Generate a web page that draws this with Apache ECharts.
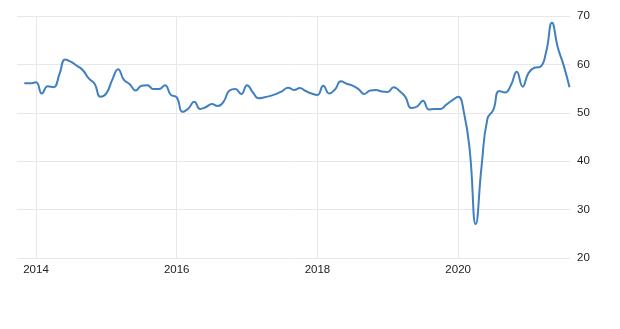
<!DOCTYPE html>
<html>
<head>
<meta charset="utf-8">
<script src="https://cdn.jsdelivr.net/npm/echarts@6/dist/echarts.min.js"></script>
<style>
html,body{margin:0;padding:0;background:#fff;}
#chart{width:620px;height:329px;}
</style>
</head>
<body>
<div id="chart"></div>
<script>
// Monthly observations, Nov 2013 .. Aug 2021
var startYear = 2013, startMonth = 11;
var values = [
  56.1, 56.1,
  56.3, 54.0, 55.5, 55.3, 58.0, 61.0, 60.5, 59.7, 58.8, 57.1, 56.0, 53.3,
  54.0, 56.8, 59.0, 56.8, 55.9, 54.6, 55.6, 55.7, 54.9, 54.9, 55.7, 53.7,
  53.2, 50.2, 50.9, 52.3, 50.8, 51.2, 51.8, 51.4, 52.3, 54.6, 54.9, 53.9,
  55.7, 54.2, 53.0, 53.2, 53.5, 53.9, 54.5, 55.2, 54.7, 55.1, 54.5, 54.0,
  53.7, 55.6, 54.0, 54.8, 56.5, 56.0, 55.6, 54.9, 53.9, 54.6, 54.7, 54.4,
  54.3, 55.3, 54.5, 53.3, 51.0, 51.3, 52.5, 50.7, 50.8, 50.8, 51.7, 52.6,
  53.3, 50.0, 42.0, 27.0, 39.0, 48.8, 50.6, 54.5, 54.2, 55.7, 58.5, 55.4,
  58.2, 59.3, 59.5, 62.5, 68.6, 63.5, 59.8, 55.3
];
var yearTicks = [2014, 2016, 2018, 2020];
var yTicks = [20, 30, 40, 50, 60, 70];

// x = fractional year (year + (month-1)/12)
var xs = [];
for (var i = 0; i < values.length; i++) {
  var mm = startMonth - 1 + i;
  var y = startYear + Math.floor(mm / 12);
  var m = mm % 12;
  xs.push(y + m / 12);
}
var data = xs.map(function (x, i) { return [x, values[i]]; });

var font = '"Liberation Sans Narrow", "Liberation Sans", Arial, sans-serif';
var chart = echarts.init(document.getElementById('chart'), null, {renderer: 'canvas'});
chart.setOption({
  animation: false,
  backgroundColor: '#ffffff',
  grid: {left: 17, right: 50, top: 16, bottom: 71},
  xAxis: {
    type: 'value',
    min: 2013.73,
    max: 2021.59,
    axisLine: {show: false},
    axisTick: {show: false, customValues: yearTicks},
    axisLabel: {
      customValues: yearTicks,
      formatter: function (v) { return String(Math.round(v)); },
      color: '#222', fontSize: 11.5, fontFamily: font, margin: 6
    },
    splitLine: {show: true, lineStyle: {color: '#e8e8e8', width: 1}}
  },
  yAxis: {
    type: 'value',
    position: 'right',
    min: yTicks[0],
    max: yTicks[yTicks.length - 1],
    interval: 10,
    axisLine: {show: false},
    axisTick: {show: false},
    axisLabel: {color: '#222', fontSize: 11.5, fontFamily: font, margin: 7},
    splitLine: {show: true, lineStyle: {color: '#e8e8e8', width: 1}}
  },
  series: [{
    type: 'line',
    data: data,
    smooth: 0.5,
    showSymbol: false,
    lineStyle: {color: '#4080c0', width: 2}
  }]
});
</script>
</body>
</html>
